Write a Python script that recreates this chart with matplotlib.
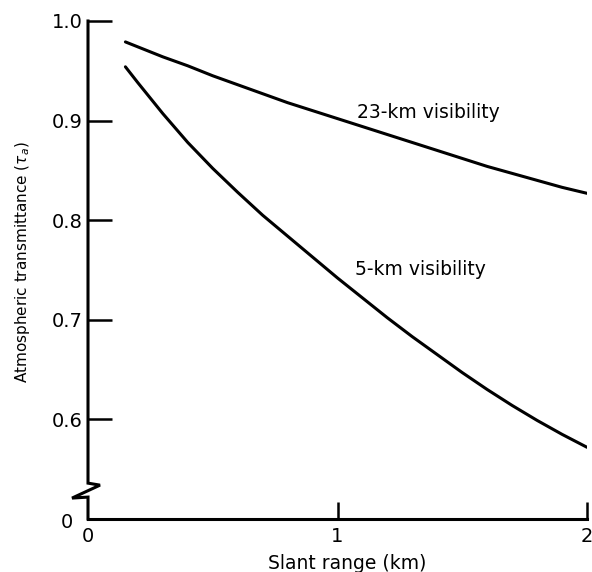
import matplotlib
matplotlib.use("Agg")
import matplotlib.pyplot as plt

# ── data ────────────────────────────────────
slant_range = [0.15, 0.2, 0.3, 0.4, 0.5, 0.6, 0.7, 0.8, 0.9, 1.0,
               1.1, 1.2, 1.3, 1.4, 1.5, 1.6, 1.7, 1.8, 1.9, 2.0]
vis_23km = [0.979, 0.974, 0.964, 0.955, 0.945, 0.936, 0.927, 0.918, 0.910, 0.902,
            0.894, 0.886, 0.878, 0.870, 0.862, 0.854, 0.847, 0.840, 0.833, 0.827]
vis_5km = [0.954, 0.938, 0.907, 0.878, 0.852, 0.828, 0.805, 0.784, 0.763, 0.742,
           0.722, 0.702, 0.683, 0.665, 0.647, 0.630, 0.614, 0.599, 0.585, 0.572]

x_ticks = [0, 1, 2]
x_ticklabels = ["0", "1", "2"]
y_ticks = [0.6, 0.7, 0.8, 0.9, 1.0]
y_ticklabels = ["0.6", "0.7", "0.8", "0.9", "1.0"]

plt.rcParams["font.family"] = ["DejaVu Sans"]

fig = plt.figure(figsize=(5.92, 5.72), dpi=100)
ax = fig.add_axes([88 / 592, 1 - 519 / 572, 499 / 592, 498 / 572])

ax.plot(slant_range, vis_23km, color="black", lw=2.2, solid_capstyle="round")
ax.plot(slant_range, vis_5km, color="black", lw=2.2, solid_capstyle="round")

ax.set_xlim(0, 2)
ax.set_ylim(0.5, 1.0)

# spines: only bottom drawn by mpl, left one drawn by hand with a break
for s in ("top", "right", "left"):
    ax.spines[s].set_visible(False)
ax.spines["bottom"].set_linewidth(2.2)

brk_x = [0, 0, 0.048, -0.064, 0, 0]
brk_y = [1.0, 0.536, 0.534, 0.521, 0.522, 0.5]
ax.plot(brk_x, brk_y, color="black", lw=2.2, clip_on=False,
        solid_joinstyle="miter")

ax.set_xticks(x_ticks)
ax.set_xticklabels(x_ticklabels, fontsize=14)
ax.xaxis.get_major_ticks()[0].tick1line.set_visible(False)
ax.tick_params(axis="x", direction="in", length=12, width=1.8, pad=6)

ax.set_yticks(y_ticks)
ax.set_yticklabels(y_ticklabels, fontsize=14)
ax.tick_params(axis="y", direction="in", length=17, width=1.8, pad=4)

# broken-axis zero on the y axis
ax.text(-0.03, -0.008, "0", transform=ax.transAxes, ha="right", va="center",
        fontsize=14)

ax.set_xlabel("Slant range (km)", fontsize=13.5)
ax.xaxis.set_label_coords(0.519, -0.09)
ax.xaxis.label.set_va("center")
ax.set_ylabel(r"Atmospheric transmittance ($\tau_a$)", fontsize=11)
ax.yaxis.set_label_coords(-0.132, 0.516)
ax.yaxis.label.set_va("center")

ax.text(1.08, 0.908, "23-km visibility", fontsize=13.5, ha="left", va="center")
ax.text(1.07, 0.751, "5-km visibility", fontsize=13.5, ha="left", va="center")

fig.savefig("out.png", dpi=100)
plt.close(fig)
